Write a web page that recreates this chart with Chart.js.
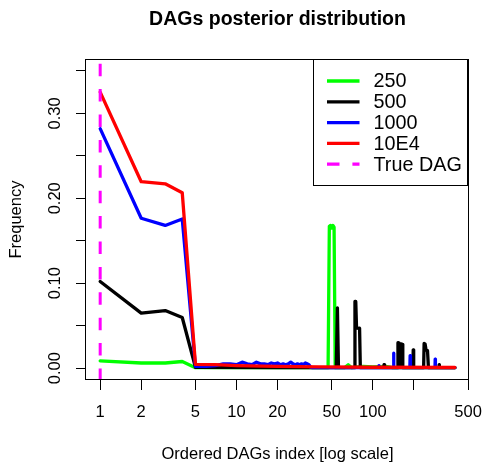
<!DOCTYPE html>
<html>
<head>
<meta charset="utf-8">
<script src="https://cdn.jsdelivr.net/npm/chart.js@4.4.0/dist/chart.umd.min.js"></script>
<style>
  body { margin: 0; background: #fff; }
</style>
</head>
<body>
<canvas id="myChart" width="482" height="464"></canvas>
<script>
// ordered DAG index (x) and posterior frequency (y) for each sample size
const dags250 = [1, 2, 3, 4, 5, 20, 47, 48, 49, 50, 51, 52, 53, 62, 66, 70, 85, 100, 125, 140, 400];
const freq250 = [0.0086, 0.006, 0.006, 0.0078, 0.0005, 0.0005, 0.0005, 0.167, 0.168, 0.165, 0.168, 0.166, 0.0005, 0.0005, 0.004, 0.0005, 0.002, 0.0015, 0.002, 0.0005, 0.0005];

const dags500 = [1, 2, 3, 4, 5, 20, 54, 55, 56, 73, 74, 75, 76, 77, 78, 79, 80, 81, 120, 121, 122, 151, 153, 156, 159, 162, 164, 166, 197, 198, 199, 200, 236, 238, 242, 246, 252, 256, 306, 307, 308, 400];
const freq500 = [0.102, 0.0647, 0.0678, 0.0596, 0.001, 0.0005, 0.0005, 0.071, 0.0005, 0.0005, 0.0785, 0.0785, 0.047, 0.047, 0.047, 0.0465, 0.047, 0.0005, 0.0005, 0.004, 0.0005, 0.0005, 0.030, 0.0295, 0.001, 0.0285, 0.028, 0.0005, 0.0005, 0.0215, 0.020, 0.0005, 0.0005, 0.029, 0.0285, 0.021, 0.0205, 0.0005, 0.0005, 0.004, 0.0005, 0.0005];

const dags1000 = [1, 2, 3, 4, 5, 6, 7, 8, 9, 10, 11, 12, 13, 14, 15, 16, 17, 18, 19, 20, 21, 22, 23, 24, 25, 26, 27, 28, 29, 30, 31, 32, 33, 34, 35, 36, 110, 111, 112, 141, 142, 143, 187, 188, 189, 286, 287, 288, 400];
const freq1000 = [0.282, 0.1765, 0.168, 0.1756, 0.002, 0.002, 0.003, 0.005, 0.005, 0.004, 0.007, 0.005, 0.004, 0.007, 0.005, 0.005, 0.004, 0.006, 0.005, 0.006, 0.004, 0.005, 0.004, 0.005, 0.007, 0.005, 0.004, 0.005, 0.004, 0.005, 0.004, 0.006, 0.005, 0.004, 0.001, 0.0005, 0.0005, 0.003, 0.0005, 0.0005, 0.0176, 0.0005, 0.0005, 0.0148, 0.0005, 0.0005, 0.0106, 0.0005, 0.0005];

const dags10E4 = [1, 2, 3, 4, 5, 7, 10, 20, 40, 100, 400];
const freq10E4 = [0.325, 0.2195, 0.217, 0.2066, 0.0045, 0.004, 0.003, 0.002, 0.0015, 0.001, 0.0007];

const trueDag = 1;

const yMin = -0.014, yMax = 0.364;
const xMin = 0.787, xMax = 508;
const yTickValues = [0, 0.05, 0.10, 0.15, 0.20, 0.25, 0.30, 0.35];
const yTickLabels = ['0.00', '', '0.10', '', '0.20', '', '0.30', ''];
const xTickValues = [1, 2, 5, 10, 20, 50, 100, 200, 500];
const xTickLabels = ['1', '2', '5', '10', '20', '50', '100', '', '500'];

const FONT = "'Liberation Sans', Arial, sans-serif";
Chart.defaults.color = '#000';
Chart.defaults.font.family = FONT;

function pts(xs, ys) {
    return xs.map((x, i) => ({ x: x, y: ys[i] }));
}

function lineSet(label, xs, ys, color, order) {
    return {
        label: label,
        data: pts(xs, ys),
        borderColor: color,
        borderWidth: 3.3,
        pointRadius: 0,
        tension: 0,
        fill: false,
        borderCapStyle: 'round',
        borderJoinStyle: 'round',
        order: order
    };
}

// centre the main title over the plot region, like R does
const titleOverPlot = {
    id: 'titleOverPlot',
    afterLayout(chart) {
        const t = chart.titleBlock;
        if (t) {
            t.left = chart.chartArea.left;
            t.right = chart.chartArea.right;
        }
    }
};

// box around the plot region
const plotBox = {
    id: 'plotBox',
    afterDatasetsDraw(chart) {
        const a = chart.chartArea, ctx = chart.ctx;
        ctx.save();
        ctx.strokeStyle = '#000';
        ctx.lineWidth = 1;
        ctx.strokeRect(Math.round(a.left) - 0.5, Math.round(a.top) + 0.5,
            Math.round(a.right - a.left), Math.round(a.bottom - a.top) - 1);
        ctx.restore();
    }
};

// R style legend in the top right corner
const rLegend = {
    id: 'rLegend',
    afterDraw(chart) {
        const a = chart.chartArea, ctx = chart.ctx;
        const right = Math.round(a.right) - 1.5, top = Math.round(a.top) + 0.5;
        const w = 154, h = 126, left = right - w;
        ctx.save();
        ctx.fillStyle = '#fff';
        ctx.fillRect(left, top, w, h);
        ctx.strokeStyle = '#000';
        ctx.lineWidth = 1;
        ctx.strokeRect(left, top, w, h);
        ctx.font = '19.8px ' + FONT;
        ctx.textBaseline = 'middle';
        chart.data.datasets.forEach(function (ds, i) {
            const y = top + 21.5 + i * 20.8;
            ctx.beginPath();
            ctx.strokeStyle = ds.borderColor;
            ctx.lineWidth = 3.3;
            ctx.setLineDash(ds.borderDash || []);
            ctx.moveTo(left + 13.5, y);
            ctx.lineTo(left + 46, y);
            ctx.stroke();
            ctx.setLineDash([]);
            ctx.fillStyle = '#000';
            ctx.fillText(ds.label, left + 60, y + 1);
        });
        ctx.restore();
    }
};

const data = {
    datasets: [
        lineSet('250', dags250, freq250, '#00ff00', 4),
        lineSet('500', dags500, freq500, '#000000', 3),
        lineSet('1000', dags1000, freq1000, '#0000ff', 2),
        lineSet('10E4', dags10E4, freq10E4, '#ff0000', 1),
        {
            label: 'True DAG',
            data: [{ x: trueDag, y: yMax }, { x: trueDag, y: yMin }],
            borderColor: '#ff00ff',
            borderWidth: 3,
            borderDash: [12.5, 12.9],
            borderDashOffset: 20.7,
            pointRadius: 0,
            fill: false,
            order: 0
        }
    ]
};

const config = {
    type: 'line',
    data: data,
    options: {
        responsive: false,
        animation: false,
        events: [],
        layout: { padding: { left: 0, right: 13, top: 0, bottom: 0 } },
        plugins: {
            legend: { display: false },
            tooltip: { enabled: false },
            title: {
                display: true,
                text: 'DAGs posterior distribution',
                font: { size: 19.5, weight: 'bold', family: FONT, lineHeight: 1.2 },
                padding: { top: 7.5, bottom: 28.1 }
            }
        },
        scales: {
            x: {
                type: 'logarithmic',
                min: xMin,
                max: xMax,
                afterBuildTicks: function (s) { s.ticks = xTickValues.map(v => ({ value: v })); },
                afterFit: function (s) {
                    s.height = 84;
                    s.paddingLeft = 0; s.paddingRight = 0;
                },
                grid: { display: true, drawOnChartArea: false, drawTicks: true, tickLength: 10, color: '#000', lineWidth: 1 },
                border: { display: false },
                ticks: {
                    autoSkip: false,
                    maxRotation: 0,
                    minRotation: 0,
                    padding: 13,
                    font: { size: 16.5, family: FONT },
                    callback: function (v, i) { return xTickLabels[i]; }
                },
                title: {
                    display: true,
                    text: 'Ordered DAGs index [log scale]',
                    font: { size: 16.5, family: FONT, lineHeight: 1.2 },
                    padding: { top: 0, bottom: 0 }
                }
            },
            y: {
                type: 'linear',
                min: yMin,
                max: yMax,
                afterBuildTicks: function (s) { s.ticks = yTickValues.map(v => ({ value: v })); },
                afterFit: function (s) {
                    s.width = 86;
                    s.paddingTop = 0; s.paddingBottom = 0;
                },
                grid: { display: true, drawOnChartArea: false, drawTicks: true, tickLength: 10, color: '#000', lineWidth: 1 },
                border: { display: false },
                ticks: {
                    autoSkip: false,
                    minRotation: 90,
                    maxRotation: 90,
                    crossAlign: 'center',
                    padding: 4,
                    font: { size: 16.5, family: FONT },
                    callback: function (v, i) { return yTickLabels[i]; }
                },
                title: {
                    display: true,
                    text: 'Frequency',
                    font: { size: 16.5, family: FONT, lineHeight: 1.2 },
                    padding: { top: 6.4, bottom: 0 }
                }
            }
        }
    },
    plugins: [titleOverPlot, plotBox, rLegend]
};

const myChart = new Chart(
    document.getElementById('myChart'),
    config
);
</script>
</body>
</html>
